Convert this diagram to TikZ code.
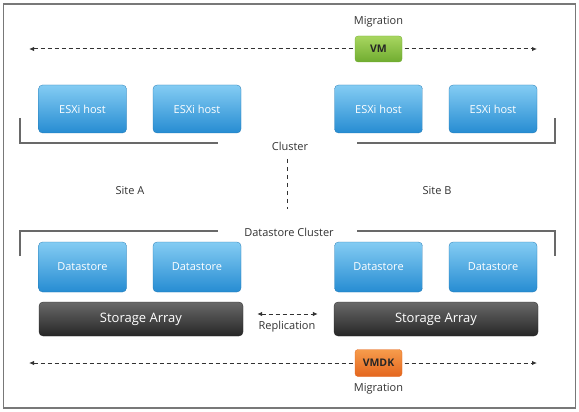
\documentclass[tikz,border=0pt]{standalone}
\usepackage{fontspec}
\setmainfont{Open Sans}
\usetikzlibrary{arrows.meta}

\definecolor{hosttop}{RGB}{132,204,243}
\definecolor{hostbot}{RGB}{38,140,210}
\definecolor{arraytop}{RGB}{105,105,105}
\definecolor{arraybot}{RGB}{38,38,38}
\definecolor{vmtop}{RGB}{168,214,96}
\definecolor{vmbot}{RGB}{112,172,48}
\definecolor{vmdktop}{RGB}{246,156,76}
\definecolor{vmdkbot}{RGB}{228,102,30}
\definecolor{labelgray}{RGB}{50,50,50}
\definecolor{linegray}{RGB}{105,105,105}
\definecolor{framegray}{RGB}{120,120,120}

\tikzset{
  hostbox/.style={rounded corners=4pt, top color=hosttop, bottom color=hostbot,
    draw=hostbot!85!black, line width=0.3pt, minimum width=88pt, minimum height=48pt,
    text=white, font=\fontsize{11}{13}\selectfont},
  arraybox/.style={rounded corners=4pt, top color=arraytop, bottom color=arraybot,
    draw=arraybot, line width=0.3pt, minimum width=204pt, minimum height=34pt,
    text=white, font=\fontsize{13}{15}\selectfont},
  tagbox/.style={rounded corners=3pt, line width=0.3pt, minimum width=47pt,
    minimum height=26pt, text=black!85, font=\fontsize{10.5}{12}\selectfont\bfseries},
  lbl/.style={text=labelgray, font=\fontsize{11}{13}\selectfont},
  migline/.style={labelgray, line width=1pt, dash pattern=on 4pt off 3pt},
  bracket/.style={linegray, line width=1.2pt},
}

\begin{document}
\begin{tikzpicture}[x=1pt, y=1pt, >={Latex[length=5pt,width=4.5pt]}]
\useasboundingbox (0,0) rectangle (579,-412);
\draw[framegray, line width=1.2pt] (3.5,-4) rectangle (575.5,-408);

% VM migration
\node[lbl] (migtop) at (378.5,-22) {Migration};
\coordinate (vmL) at (29,-49);
\coordinate (vmR) at (537,-49);
\draw[migline, <->] (vmL) -- (vmR);
\node[tagbox, top color=vmtop, bottom color=vmbot, draw=vmbot] (vm) at (378.5,-49) {VM};

% ESXi hosts
\node[hostbox] (esxiA1) at (82.5,-109) {ESXi host};
\node[hostbox] (esxiA2) at (197,-109) {ESXi host};
\node[hostbox] (esxiB1) at (378.5,-109) {ESXi host};
\node[hostbox] (esxiB2) at (493,-109) {ESXi host};

% Cluster
\draw[bracket] (20,-118) -- (20,-143) -- (218,-143);
\draw[bracket] (357,-143) -- (555,-143) -- (555,-118);
\node[lbl] (cluster) at (290,-146) {Cluster};

% Sites
\node[lbl] (siteA) at (130,-191) {Site A};
\node[lbl] (siteB) at (437,-191) {Site B};

% Datastore cluster
\node[lbl] (dscluster) at (289,-232) {Datastore Cluster};
\draw[bracket] (20,-256) -- (20,-231) -- (218,-231);
\draw[bracket] (357,-231) -- (555,-231) -- (555,-256);
\draw[migline, dash pattern=on 4pt off 4pt, shorten <=5pt, shorten >=15pt]
  ([xshift=-3pt]cluster.south) -- ([xshift=-3pt]cluster.south |- dscluster.north);

% Datastores
\node[hostbox, minimum height=50pt] (dsA1) at (82.5,-267) {Datastore};
\node[hostbox, minimum height=50pt] (dsA2) at (197,-267) {Datastore};
\node[hostbox, minimum height=50pt] (dsB1) at (378.5,-267) {Datastore};
\node[hostbox, minimum height=50pt] (dsB2) at (493,-267) {Datastore};

% Storage arrays
\node[arraybox] (arrayA) at (141,-319) {Storage Array};
\node[arraybox] (arrayB) at (436,-319) {Storage Array};
\draw[migline, <->, shorten <=14pt, shorten >=16pt]
  ([yshift=5pt]arrayA.east) -- ([yshift=5pt]arrayB.west);
\node[lbl] (replication) at (287,-327) {Replication};

% VMDK migration
\coordinate (vmdkL) at (29,-363);
\coordinate (vmdkR) at (537,-363);
\draw[migline, <->] (vmdkL) -- (vmdkR);
\node[tagbox, top color=vmdktop, bottom color=vmdkbot, draw=vmdkbot, minimum height=27pt] (vmdk) at (378.5,-363) {VMDK};
\node[lbl] (migbot) at (378.5,-389) {Migration};

\end{tikzpicture}
\end{document}
